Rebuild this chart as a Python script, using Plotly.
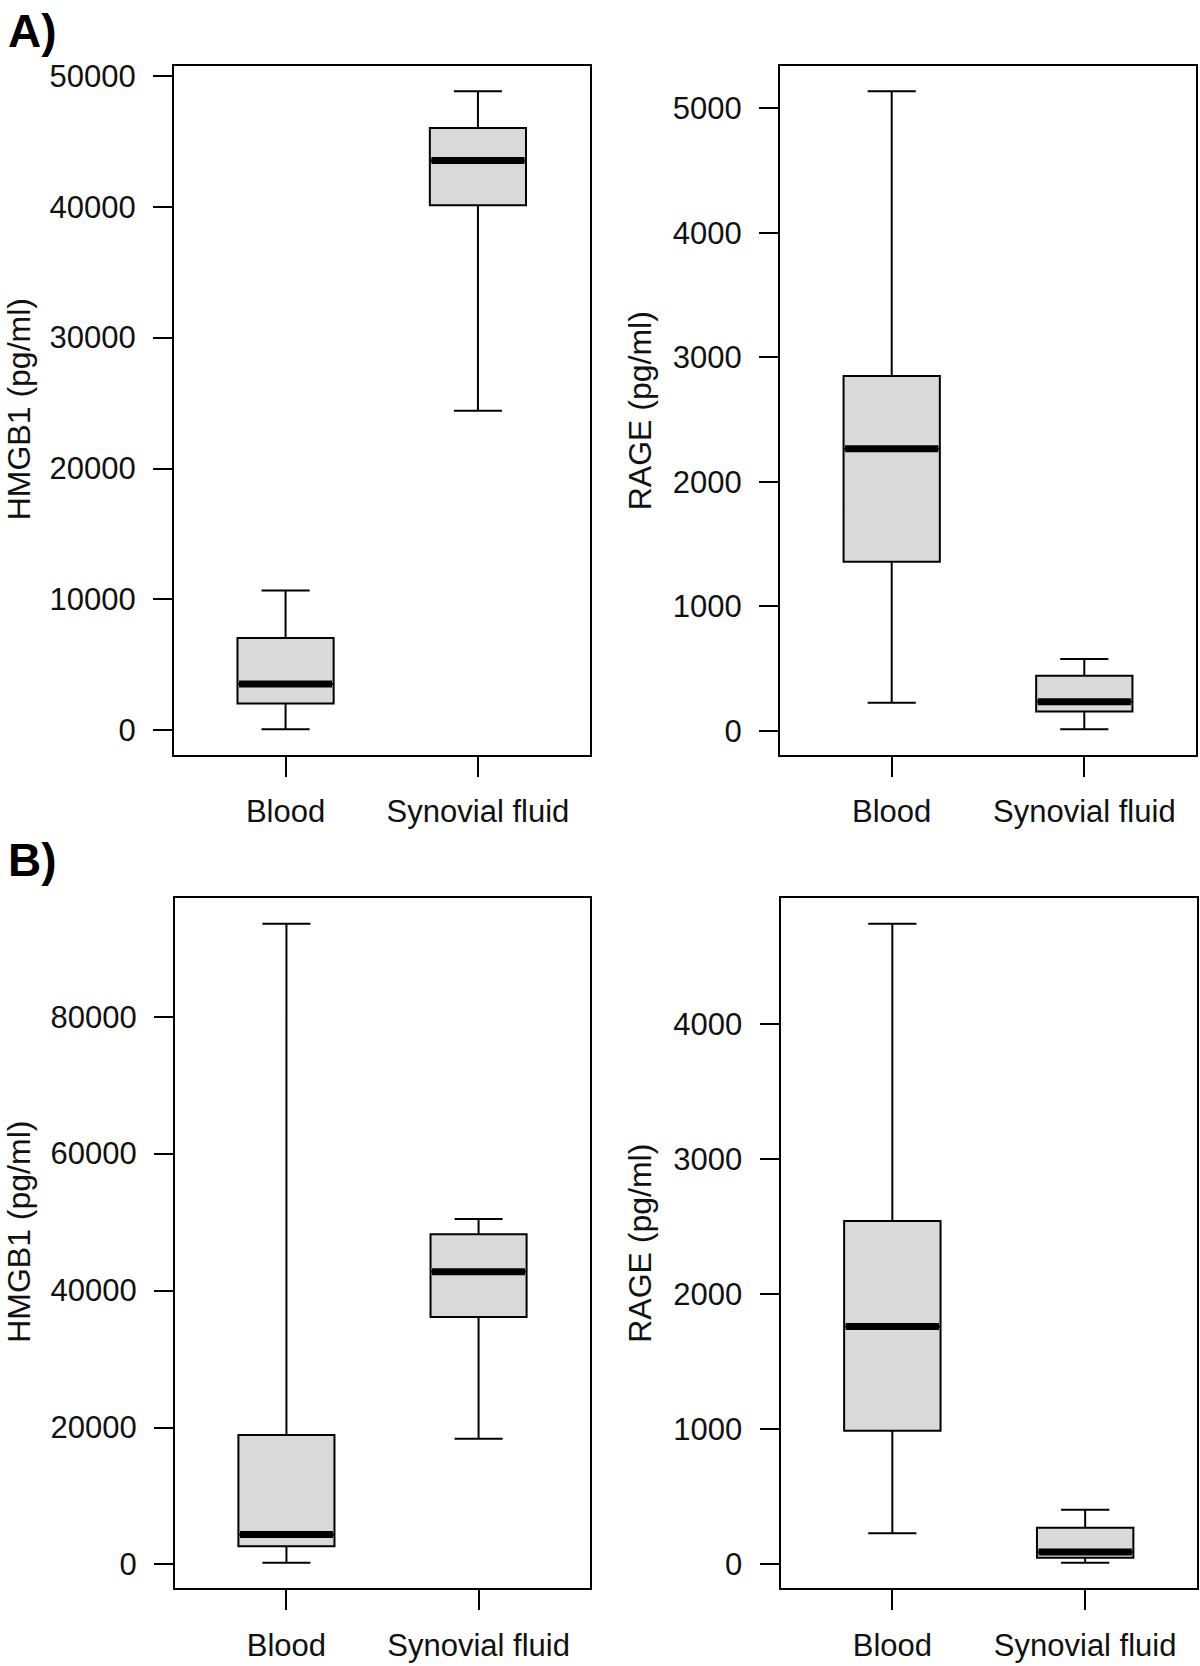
import plotly.graph_objects as go

W, H = 1200, 1666

categories = ["Blood", "Synovial fluid"]
positions = [1, 2]

# Panel A – HMGB1
a_hmgb1_low = [76, 24420]
a_hmgb1_q1 = [2050, 40110]
a_hmgb1_med = [3540, 43530]
a_hmgb1_q3 = [7060, 46010]
a_hmgb1_high = [10680, 48820]

# Panel A – RAGE
a_rage_low = [226, 13]
a_rage_q1 = [1358, 156]
a_rage_med = [2265, 234]
a_rage_q3 = [2849, 443]
a_rage_high = [5136, 577]

# Panel B – HMGB1
b_hmgb1_low = [247, 18360]
b_hmgb1_q1 = [2660, 36150]
b_hmgb1_med = [4360, 42730]
b_hmgb1_q3 = [18900, 48210]
b_hmgb1_high = [93560, 50440]

# Panel B – RAGE
b_rage_low = [230, 12]
b_rage_q1 = [989, 49]
b_rage_med = [1760, 91]
b_rage_q3 = [2540, 272]
b_rage_high = [4740, 405]

panels = [
    dict(low=a_hmgb1_low, q1=a_hmgb1_q1, med=a_hmgb1_med, q3=a_hmgb1_q3, high=a_hmgb1_high,
         dtick=10000, title="HMGB1 (pg/ml)",
         px=(174, 589.5), py=(59, 751), tx=19, ty=404),
    dict(low=a_rage_low, q1=a_rage_q1, med=a_rage_med, q3=a_rage_q3, high=a_rage_high,
         dtick=1000, title="RAGE (pg/ml)",
         px=(780, 1196), py=(59, 751), tx=640, ty=406),
    dict(low=b_hmgb1_low, q1=b_hmgb1_q1, med=b_hmgb1_med, q3=b_hmgb1_q3, high=b_hmgb1_high,
         dtick=20000, title="HMGB1 (pg/ml)",
         px=(175, 590), py=(895, 1588), tx=19, ty=1230),
    dict(low=b_rage_low, q1=b_rage_q1, med=b_rage_med, q3=b_rage_q3, high=b_rage_high,
         dtick=1000, title="RAGE (pg/ml)",
         px=(780.5, 1197), py=(895, 1588), tx=640, ty=1242),
]

BOX_W = 0.5
FONT = "Liberation Sans, Arial, sans-serif"
TXT = "#111111"

fig = go.Figure()
annotations = []
layout = {}

for i, p in enumerate(panels, start=1):
    xa = "x" if i == 1 else f"x{i}"
    ya = "y" if i == 1 else f"y{i}"
    fig.add_trace(go.Box(
        x=positions, q1=p["q1"], median=p["med"], q3=p["q3"],
        lowerfence=p["low"], upperfence=p["high"],
        width=BOX_W, whiskerwidth=0.5, boxpoints=False,
        fillcolor="#d9d9d9", line=dict(color="black", width=2),
        xaxis=xa, yaxis=ya, showlegend=False, hoverinfo="skip",
    ))
    # thick median bars
    for xpos, m in zip(positions, p["med"]):
        fig.add_trace(go.Scatter(
            x=[xpos - BOX_W / 2 + 0.008, xpos + BOX_W / 2 - 0.008], y=[m, m],
            mode="lines", line=dict(color="black", width=7),
            xaxis=xa, yaxis=ya, showlegend=False, hoverinfo="skip",
        ))
    lo = min(p["low"]); hi = max(p["high"])
    ext = 0.04 * (hi - lo)
    key = "" if i == 1 else str(i)
    layout[f"xaxis{key}"] = dict(
        domain=[p["px"][0] / W, p["px"][1] / W], anchor=ya,
        range=[0.42, 2.58], tickvals=positions, ticktext=categories,
        showline=True, mirror=True, linecolor="black", linewidth=2,
        ticks="outside", ticklen=20, tickwidth=2, tickcolor="black",
        showgrid=False, zeroline=False, ticklabelstandoff=8,
        tickfont=dict(family=FONT, size=31, color=TXT), fixedrange=True,
    )
    layout[f"yaxis{key}"] = dict(
        domain=[1 - p["py"][1] / H, 1 - p["py"][0] / H], anchor=xa,
        range=[lo - ext, hi + ext], tick0=0, dtick=p["dtick"],
        tickformat="d",
        showline=True, mirror=True, linecolor="black", linewidth=2,
        ticks="outside", ticklen=19, tickwidth=2, tickcolor="black",
        showgrid=False, zeroline=False, ticklabelstandoff=11,
        tickfont=dict(family=FONT, size=31, color=TXT), fixedrange=True,
    )
    annotations.append(dict(
        text=p["title"], x=p["tx"] / W, y=1 - p["ty"] / H, xref="paper", yref="paper",
        textangle=-90, showarrow=False, xanchor="center", yanchor="middle",
        font=dict(family=FONT, size=32, color=TXT),
    ))

annotations.append(dict(text="<b>A)</b>", x=6 / W, y=1 - 24 / H, xref="paper", yref="paper",
                        showarrow=False, xanchor="left", yanchor="middle",
                        font=dict(family=FONT, size=46, color="black")))
annotations.append(dict(text="<b>B)</b>", x=6 / W, y=1 - 857 / H, xref="paper", yref="paper",
                        showarrow=False, xanchor="left", yanchor="middle",
                        font=dict(family=FONT, size=46, color="black")))

fig.update_layout(
    width=W, height=H, margin=dict(l=0, r=0, t=0, b=0),
    paper_bgcolor="white", plot_bgcolor="white",
    annotations=annotations, **layout,
)

fig.write_html("out.html", config={"displayModeBar": False},
               post_script="document.body.style.margin='0';document.body.style.overflow='hidden';")
